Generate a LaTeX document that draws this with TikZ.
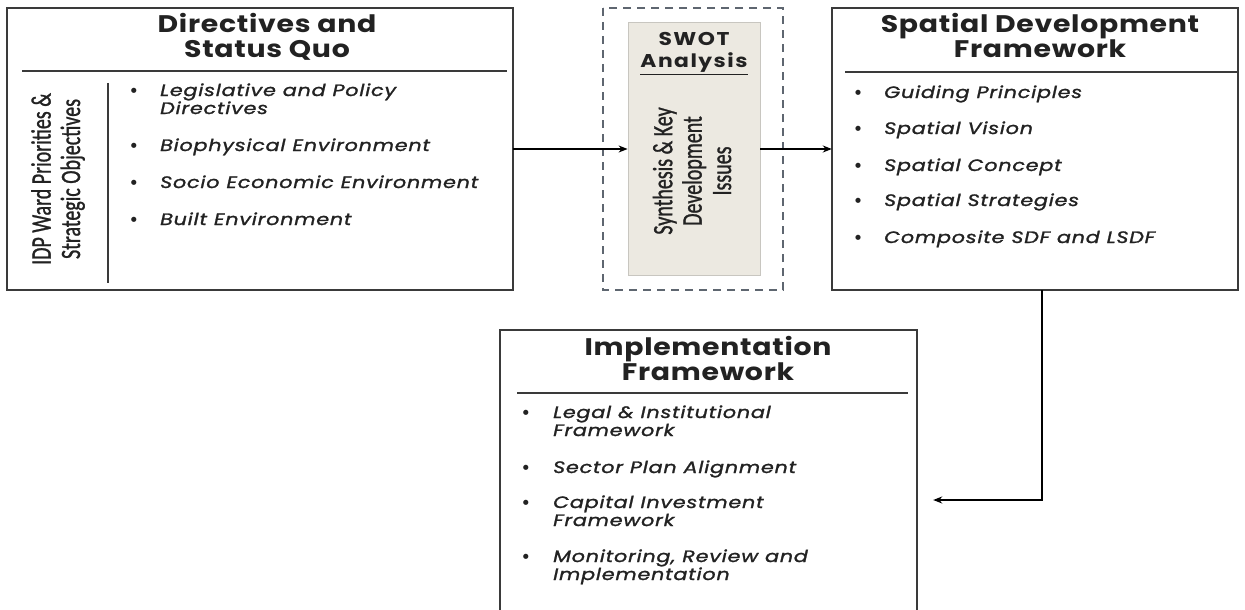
\documentclass[tikz,border=0pt]{standalone}
\usepackage{fontspec}
\setmainfont{Poppins}
\newfontfamily\cond{Carlito}[FakeBold=1.2]
\newfontfamily\itemfont{Poppins}[LetterSpace=5,FakeStretch=1.25,FakeBold=1.5]
\newfontfamily\titlefont{Poppins}[LetterSpace=3,FakeStretch=1.18]
\newfontfamily\swotfont{Poppins}[LetterSpace=8,FakeStretch=1.18]
\usetikzlibrary{arrows.meta}
\definecolor{boxline}{HTML}{3A3A3A}
\definecolor{swotfill}{HTML}{ECE9E1}
\definecolor{swotedge}{HTML}{C8C6C0}
\definecolor{dashcol}{HTML}{5E6670}
\definecolor{txt}{HTML}{222222}
\begin{document}
\begin{tikzpicture}[x=1pt,y=-1pt,
  frame/.style={draw=boxline,line width=1.8pt,inner sep=0pt},
  ttl/.style={font=\titlefont\fontsize{24}{25}\selectfont\bfseries,text=txt,align=center,anchor=base,inner sep=0pt},
  itm/.style={font=\itemfont\fontsize{16.5}{18}\selectfont\itshape,text=txt,align=left,anchor=base west,inner sep=0pt},
  bul/.style={font=\fontsize{17}{17}\selectfont\bfseries,text=txt,anchor=base,inner sep=0pt},
  rot/.style={font=\cond\fontsize{20}{21}\selectfont,text=txt,align=center,rotate=90,yscale=1.4,inner sep=0pt},
  sep/.style={draw=boxline,line width=1.2pt},
  arr/.style={draw=black,line width=1.8pt,-{Stealth[length=9pt,width=7pt]}}]
\useasboundingbox (0,0) rectangle (1245,610);
% boxes
\draw[frame] (7,8) rectangle (513,290);
\node[inner sep=0pt] (dir) at (260,149) [minimum width=506pt,minimum height=282pt] {};
\draw[dashcol,line width=2.2pt,dash pattern=on 8pt off 6pt] (603,8) rectangle (783,290);
\node[draw=swotedge,fill=swotfill,line width=0.8pt,minimum width=132pt,minimum height=253pt,inner sep=0pt] (swotin) at (694,149) {};
\draw[frame] (832,8) rectangle (1238,290);
\node[inner sep=0pt,minimum width=406pt,minimum height=282pt] (sdf) at (1035,149) {};
\draw[frame] (500,330) rectangle (917,612);
\node[inner sep=0pt,minimum width=417pt,minimum height=282pt] (impl) at (708.5,471) {};
% directives box
\node[ttl] (dirt) at (267,58) {Directives and\\Status Quo};
\draw[sep] (22,71) -- (507,71);
\draw[sep] (108,83) -- (108,283);
\node[rot] (idp) at (58,179) {IDP Ward Priorities \&\\Strategic Objectives};
\node[bul] (b1) at (134,96) {•};
\node[itm] (i1) at (160,114) {Legislative and Policy\\Directives};
\node[bul] (b2) at (134,151) {•};
\node[itm] (i2) at (160,151) {Biophysical Environment};
\node[bul] (b3) at (134,188) {•};
\node[itm] (i3) at (160,188) {Socio Economic Environment};
\node[bul] (b4) at (134,225) {•};
\node[itm] (i4) at (160,225) {Built Environment};
% swot
\node[font=\swotfont\fontsize{18.5}{22}\selectfont\bfseries,text=txt,align=center,anchor=base,inner sep=0pt] (swt) at (694,68) {SWOT\\\underline{Analysis}};
\node[rot] (syn) at (692,171) {Synthesis \& Key\\Development\\Issues};
% sdf
\node[ttl] (sdft) at (1040,58) {Spatial Development\\Framework};
\draw[sep] (845,72) -- (1238,72);
\node[bul] (c1) at (858,98) {•};
\node[itm] (j1) at (884,98) {Guiding Principles};
\node[bul] (c2) at (858,134) {•};
\node[itm] (j2) at (884,134) {Spatial Vision};
\node[bul] (c3) at (858,171) {•};
\node[itm] (j3) at (884,171) {Spatial Concept};
\node[bul] (c4) at (858,206) {•};
\node[itm] (j4) at (884,206) {Spatial Strategies};
\node[bul] (c5) at (858,243) {•};
\node[itm] (j5) at (884,243) {Composite SDF and LSDF};
% impl
\node[ttl] (implt) at (708,380) {Implementation\\Framework};
\draw[sep] (517,393) -- (908,393);
\node[bul] (d1) at (526,418) {•};
\node[itm] (k1) at (553,436) {Legal \& Institutional\\Framework};
\node[bul] (d2) at (526,473) {•};
\node[itm] (k2) at (553,473) {Sector Plan Alignment};
\node[bul] (d3) at (526,508) {•};
\node[itm] (k3) at (553,526) {Capital Investment\\Framework};
\node[bul] (d4) at (526,562) {•};
\node[itm] (k4) at (553,580) {Monitoring, Review and\\Implementation};
% connectors
\draw[arr] (dir.east) -- (dir.east -| swotin.west);
\draw[arr] (swotin.east) -- (swotin.east -| sdf.west);
\coordinate (bend) at (1042,500);
\draw[arr] (sdf.south -| bend) -- (bend) -- ([xshift=16pt]bend -| impl.east);
\end{tikzpicture}
\end{document}
